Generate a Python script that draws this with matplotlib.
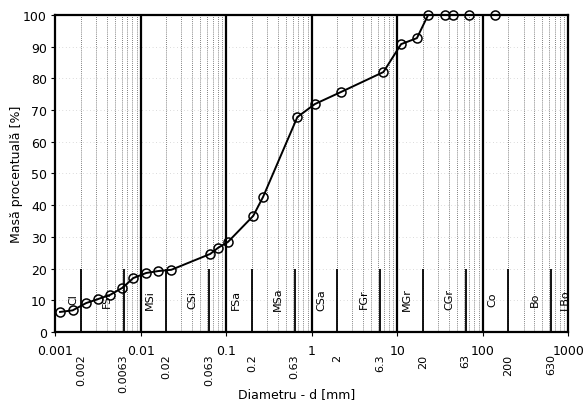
import numpy as np
import matplotlib.pyplot as plt
import matplotlib.transforms as mtransforms

# grain size curve
diam = [0.00114, 0.0016, 0.0023, 0.0032, 0.0044, 0.0061, 0.0082, 0.0116, 0.016, 0.0228,
        0.065, 0.080, 0.105, 0.207, 0.27, 0.68, 1.09, 2.2, 6.9, 11.1, 17, 23, 36, 45, 69, 140]
passing = [6.3, 6.8, 9.1, 10.4, 11.7, 13.9, 17.0, 18.6, 19.2, 19.6,
           24.6, 26.5, 28.4, 36.6, 42.6, 67.8, 71.9, 75.7, 82.0, 90.8, 92.7, 100, 100, 100, 100, 100]

# soil fraction boundaries and names
bounds = [0.002, 0.0063, 0.02, 0.063, 0.2, 0.63, 2, 6.3, 20, 63, 200, 630]
bound_labels = ["0.002", "0.0063", "0.02", "0.063", "0.2", "0.63", "2", "6.3", "20", "63", "200", "630"]
fractions = ["Cl", "FSi", "MSi", "CSi", "FSa", "MSa", "CSa", "FGr", "MGr", "CGr", "Co", "Bo", "LBo"]

fig = plt.figure(figsize=(5.87, 4.10), dpi=100)
ax = fig.add_axes([0.094, 0.188, 0.874, 0.773])
ax.set_xscale("log")
ax.set_xlim(0.001, 1000)
ax.set_ylim(0, 100)

# dotted minor grid
for dec in [0.001, 0.01, 0.1, 1, 10, 100]:
    for m in range(2, 10):
        ax.axvline(dec * m, color="#555555", lw=0.6, ls=(0, (1, 1.5)), zorder=1)
for yv in range(10, 100, 10):
    ax.axhline(yv, color="#bbbbbb", lw=0.5, ls=(0, (1, 4)), zorder=1)

# decade lines
for dec in [0.01, 0.1, 1, 10, 100]:
    ax.axvline(dec, color="black", lw=1.6, zorder=2)

# short boundary lines
ax.vlines(bounds, 0, 20, color="black", lw=1.3, zorder=2)

# fraction names
edges = [0.001] + bounds + [1000]
for i, name in enumerate(fractions):
    xc = np.sqrt(edges[i] * edges[i + 1])
    ax.text(xc, 10.5, name, rotation=90, ha="left", va="center", fontsize=8, zorder=3)

ax.plot(diam, passing, color="black", lw=1.4, marker="o", ms=6.5,
        mfc="none", mec="black", mew=1.1, zorder=4, clip_on=False)

ax.set_xticks([0.001, 0.01, 0.1, 1, 10, 100, 1000])
ax.set_xticklabels(["0.001", "0.01", "0.1", "1", "10", "100", "1000"])
ax.xaxis.set_minor_locator(plt.NullLocator())
ax.set_yticks(range(0, 101, 10))
ax.tick_params(labelsize=9, length=3, width=0.8, pad=3)
ax.tick_params(axis="x", pad=6)

# boundary values under the axis
trans = mtransforms.blended_transform_factory(ax.transData, ax.transAxes)
for b, lab in zip(bounds, bound_labels):
    ax.text(b, -0.068, lab, transform=trans, rotation=90, ha="center", va="top", fontsize=8)

for s in ax.spines.values():
    s.set_linewidth(1.6)

ax.set_ylabel("Masă procentuală [%]", fontsize=9, labelpad=0)
ax.set_xlabel("Diametru - d [mm]", fontsize=9)
ax.xaxis.set_label_coords(0.47, -0.175)

fig.savefig("out.png", dpi=100)
